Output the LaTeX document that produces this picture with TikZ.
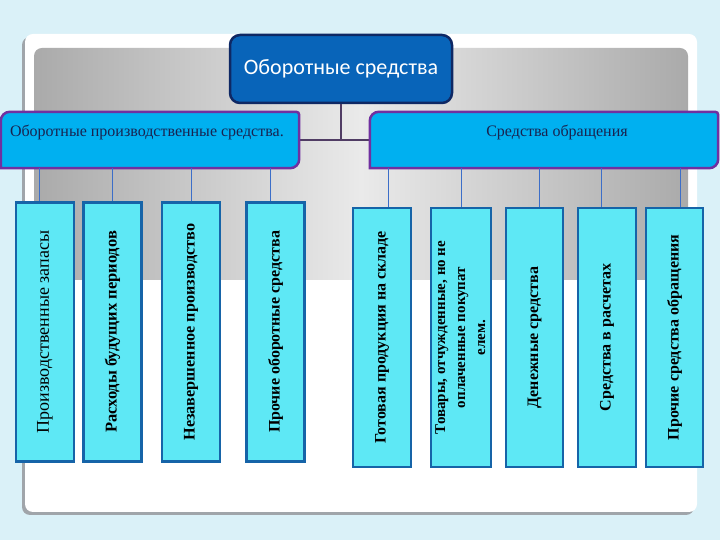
\documentclass[tikz,border=0pt]{standalone}
\usepackage{fontspec}
\setmainfont{Liberation Serif}
\newfontfamily\calib{Carlito}
\usepackage{graphicx}
\usetikzlibrary{calc}
\definecolor{bgc}{RGB}{218,241,248}
\definecolor{topfill}{RGB}{8,100,185}
\definecolor{topdraw}{RGB}{14,40,100}
\definecolor{midfill}{RGB}{0,176,240}
\definecolor{middraw}{RGB}{112,48,160}
\definecolor{leaffill}{RGB}{94,232,245}
\definecolor{leafdraw}{RGB}{22,100,168}
\definecolor{txtdark}{RGB}{25,35,80}
\definecolor{conn}{RGB}{80,60,100}
\definecolor{leafconn}{RGB}{60,110,200}
\definecolor{grayedge}{RGB}{170,170,170}
\definecolor{graymid}{RGB}{234,234,234}
\definecolor{panelshadow}{RGB}{160,165,170}
\newcommand{\leaftext}[2]{\rotatebox{90}{\fontsize{#1}{#1}\selectfont #2}}
\begin{document}
\begin{tikzpicture}[x=1pt,y=1pt,
  topbox/.style={draw=topdraw, line width=2.5pt, fill=topfill, rounded corners=10pt,
    minimum width=222pt, minimum height=68pt, inner sep=0pt, text=white,
    font=\calib\fontsize{22}{26}\selectfont},
  midbox/.style={minimum height=56pt, inner sep=0pt},
  midshape/.style={draw=middraw, line width=2.5pt, fill=midfill},
  midtext/.style={text=txtdark, font=\fontsize{16}{19}\selectfont, inner sep=0pt},
  leafbox/.style={draw=leafdraw, line width=2.2pt, fill=leaffill, minimum width=58pt,
    minimum height=259pt, inner sep=0pt, text=black},
  topline/.style={draw=conn, line width=1.2pt},
  leafline/.style={draw=leafconn, line width=0.9pt}]

\useasboundingbox (0,0) rectangle (720,540);
\fill[bgc] (0,0) rectangle (720,540);
% panel
\fill[panelshadow, rounded corners=8pt] (22,25) rectangle (694,503);
\fill[white, rounded corners=8pt] (25,28) rectangle (697,506);
% grey gradient area
\shade[left color=grayedge, right color=grayedge, middle color=graymid]
  (34,260) -- (34,484) arc[start angle=180,end angle=90,radius=8]
  -- (680,492) arc[start angle=90,end angle=0,radius=8] -- (688,260) -- cycle;

% nodes
\node[topbox] (top) at (341,471) {Оборотные средства};
\node[midbox, minimum width=298pt] (L) at (150,400) {};
\node[midbox, minimum width=348pt] (R) at (544,400) {};

% connectors
\draw[topline] (top.south) -- (top.south |- L.east);
\draw[topline] (L.east) -- (R.west);

\draw[midshape] ($(L.north west)+(0,-9)$) arc[start angle=180,end angle=90,radius=9]
  -- ($(L.north east)+(-3,0)$) arc[start angle=90,end angle=0,radius=3]
  -- ($(L.south east)+(0,9)$) arc[start angle=0,end angle=-90,radius=9]
  -- (L.south west) -- cycle;
\draw[midshape] ($(R.north west)+(0,-9)$) arc[start angle=180,end angle=90,radius=9]
  -- ($(R.north east)+(-3,0)$) arc[start angle=90,end angle=0,radius=3]
  -- ($(R.south east)+(0,9)$) arc[start angle=0,end angle=-90,radius=9]
  -- (R.south west) -- cycle;
\node[midtext, anchor=west] (Lt) at ($(L.west)+(9,8)$) {Оборотные производственные средства.};
\node[midtext] (Rt) at ($(R.center)+(13,8)$) {Средства обращения};

% leaves (left)
\node[leafbox] (a1) at (45,208) {\leaftext{18}{Производственные запасы}};
\node[leafbox] (a2) at (112.5,208) {\leaftext{16.5}{\bfseries Расходы будущих периодов}};
\node[leafbox] (a3) at (191,208) {\leaftext{16.2}{\bfseries Незавершенное производство}};
\node[leafbox] (a4) at (275.5,208) {\leaftext{16}{\bfseries Прочие оборотные средства}};
% leaves (right)
\node[leafbox] (b1) at (382,202.5) {\leaftext{16}{\bfseries Готовая продукция на складе}};
\node[leafbox] (b2) at (461,202.5) {\rotatebox{90}{\fontsize{15}{20}\selectfont\bfseries
  \begin{tabular}{@{}c@{}}Товары, отчужденные, но не\\ оплаченные покупат\\ елем.\end{tabular}}};
\node[leafbox, minimum width=57pt] (b3) at (534.5,202.5) {\leaftext{16}{\bfseries Денежные средства}};
\node[leafbox] (b4) at (607,202.5) {\leaftext{16}{\bfseries Средства в расчетах}};
\node[leafbox, minimum width=57pt] (b5) at (674.5,202.5) {\leaftext{16}{\bfseries Прочие средства обращения}};

% leaf connectors
\draw[leafline] ([xshift=-6pt]a1.north) -- ([xshift=-6pt]a1.north |- L.south);
\draw[leafline] (a2.north) -- (a2.north |- L.south);
\draw[leafline] (a3.north) -- (a3.north |- L.south);
\draw[leafline] ([xshift=-5pt]a4.north) -- ([xshift=-5pt]a4.north |- L.south);
\draw[leafline] ([xshift=6pt]b1.north) -- ([xshift=6pt]b1.north |- R.south);
\draw[leafline] (b2.north) -- (b2.north |- R.south);
\draw[leafline] ([xshift=5pt]b3.north) -- ([xshift=5pt]b3.north |- R.south);
\draw[leafline] ([xshift=-6pt]b4.north) -- ([xshift=-6pt]b4.north |- R.south);
\draw[leafline] ([xshift=6pt]b5.north) -- ([xshift=6pt]b5.north |- R.south);
\end{tikzpicture}
\end{document}
